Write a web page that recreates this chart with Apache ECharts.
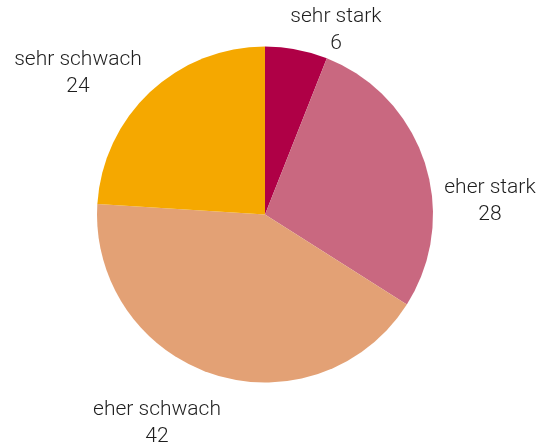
<!DOCTYPE html>
<html>
<head>
<meta charset="utf-8">
<script src="https://cdn.jsdelivr.net/npm/echarts@6/dist/echarts.min.js"></script>
<style>
  html, body { margin: 0; padding: 0; background: #ffffff; }
  #chart { width: 539px; height: 448px; }
</style>
</head>
<body>
<div id="chart"></div>
<script>
// Categories and shares, clockwise from twelve o'clock
const categories = ['sehr stark', 'eher stark', 'eher schwach', 'sehr schwach'];
const values = [6, 28, 42, 24];

const sliceColors = ['#AF0046', '#C96880', '#E3A175', '#F5A800'];

// Label anchor points (centre of each two-line label block)
const labelAnchors = [
  [336, 30],
  [490, 201],
  [157, 423],
  [78, 73]
];

const chart = echarts.init(document.getElementById('chart'), null, { renderer: 'canvas' });

chart.setOption({
  backgroundColor: '#ffffff',
  animation: false,
  series: [{
    type: 'pie',
    center: [265, 214.5],
    radius: [0, 168],
    startAngle: 90,
    clockwise: true,
    avoidLabelOverlap: false,
    silent: true,
    data: categories.map((name, i) => ({
      name: name,
      value: values[i],
      itemStyle: { color: sliceColors[i] }
    })),
    itemStyle: { borderWidth: 0 },
    label: {
      show: true,
      position: 'outside',
      formatter: '{b}\n{c}',
      fontFamily: 'Roboto',
      fontWeight: 300,
      fontSize: 21,
      lineHeight: 27,
      color: '#1e1e1e',
      align: 'center'
    },
    labelLine: { show: false },
    labelLayout: function (params) {
      const p = labelAnchors[params.dataIndex];
      return { x: p[0], y: p[1], align: 'center', verticalAlign: 'middle' };
    }
  }]
});
</script>
</body>
</html>
